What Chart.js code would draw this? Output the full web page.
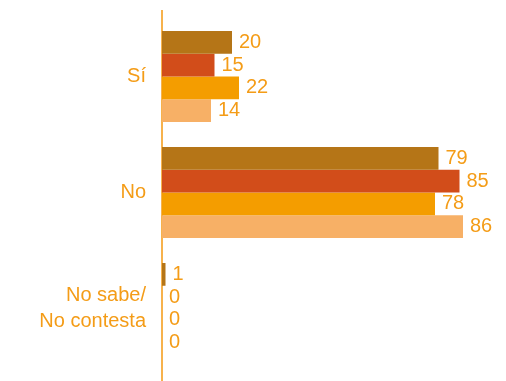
<!DOCTYPE html>
<html lang="es">
<head>
<meta charset="utf-8">
<script src="https://cdn.jsdelivr.net/npm/chart.js@4/dist/chart.umd.min.js"></script>
<style>
  html, body { margin: 0; padding: 0; background: #fff; }
  #wrap { width: 506px; height: 381px; position: relative; }
</style>
</head>
<body>
<div id="wrap"><canvas id="chart"></canvas></div>
<script>
// ===== DATA =====
const categorias = ['Sí', 'No', ['No sabe/', 'No contesta']];
const serie1 = [20, 79, 1];
const serie2 = [15, 85, 0];
const serie3 = [22, 78, 0];
const serie4 = [14, 86, 0];

const colores = ['#b57517', '#d24d1a', '#f49d00', '#f7b066'];
const textoColor = '#f49c17';
const ejeColor = '#f7b24c';
const FONT = '"Liberation Sans", Arial, sans-serif';

// ===== PLUGINS =====
// vertical axis line that runs past the plot area
const ejePlugin = {
    id: 'ejeVertical',
    beforeDatasetsDraw(chart) {
        const ctx = chart.ctx;
        const x = chart.scales.x.getPixelForValue(0);
        ctx.save();
        ctx.strokeStyle = ejeColor;
        ctx.lineWidth = 2;
        ctx.beginPath();
        ctx.moveTo(x, 10);
        ctx.lineTo(x, chart.height);
        ctx.stroke();
        ctx.restore();
    }
};

// value labels at the end of each bar
const valoresPlugin = {
    id: 'valores',
    afterDatasetsDraw(chart) {
        const ctx = chart.ctx;
        ctx.save();
        ctx.font = '20px ' + FONT;
        ctx.fillStyle = textoColor;
        ctx.textAlign = 'left';
        ctx.textBaseline = 'middle';
        chart.data.datasets.forEach((ds, i) => {
            const meta = chart.getDatasetMeta(i);
            meta.data.forEach((bar, j) => {
                ctx.fillText(String(ds.data[j]), bar.x + 7, bar.y);
            });
        });
        ctx.restore();
    }
};

// ===== CHART =====
new Chart(document.getElementById('chart'), {
    type: 'bar',
    data: {
        labels: categorias,
        datasets: [serie1, serie2, serie3, serie4].map((d, i) => ({
            label: 'Serie ' + (i + 1),
            data: d,
            backgroundColor: colores[i],
            borderWidth: 0,
            barPercentage: 1,
            categoryPercentage: 0.785
        }))
    },
    options: {
        indexAxis: 'y',
        responsive: true,
        maintainAspectRatio: false,
        animation: false,
        layout: { padding: { top: 18.5, bottom: 14.5, left: 0, right: 8 } },
        plugins: {
            legend: { display: false },
            tooltip: { enabled: false }
        },
        scales: {
            x: {
                display: false,
                min: 0,
                max: 96
            },
            y: {
                grid: { display: false, drawTicks: false },
                border: { display: false },
                ticks: {
                    color: textoColor,
                    padding: 16,
                    font: { family: FONT, size: 20, lineHeight: 1.3 }
                },
                afterFit(scale) {
                    scale.width = 162;
                    scale.paddingTop = 0;
                    scale.paddingBottom = 0;
                }
            }
        }
    },
    plugins: [ejePlugin, valoresPlugin]
});
</script>
</body>
</html>
